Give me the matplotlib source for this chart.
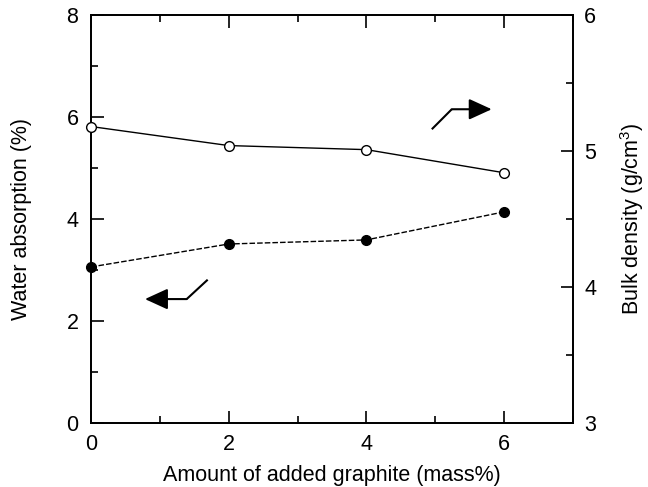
import matplotlib
matplotlib.use("Agg")
from matplotlib import pyplot as plt
from matplotlib.ticker import MultipleLocator

graphite = [0, 2, 4, 6]
water_abs = [3.06, 3.51, 3.59, 4.14]
bulk_density = [5.18, 5.04, 5.01, 4.84]

plt.rcParams['font.family'] = ['Liberation Sans', 'DejaVu Sans']
plt.rcParams['mathtext.fontset'] = 'custom'
plt.rcParams['mathtext.rm'] = 'Liberation Sans'

fs = 15.5
fig = plt.figure(figsize=(6.48, 4.87), dpi=100)
ax = fig.add_axes([0.1404, 0.1314, 0.7438, 0.8378])
ax2 = ax.twinx()

ax.plot(graphite, water_abs, color='black', lw=1.0, ls=(0, (4, 1.5)),
        marker='o', ms=7, mfc='black', mec='black', clip_on=False, zorder=3)
ax2.plot(graphite, bulk_density, color='black', lw=1.0, ls='-',
         marker='o', ms=7, mfc='white', mec='black', mew=1.0, clip_on=False, zorder=3)

ax.set_xlim(0, 7)
ax.set_ylim(0, 8)
ax2.set_ylim(3, 6)

ax.xaxis.set_major_locator(MultipleLocator(2))
ax.xaxis.set_minor_locator(MultipleLocator(1))
ax.yaxis.set_major_locator(MultipleLocator(2))
ax.yaxis.set_minor_locator(MultipleLocator(1))
ax2.yaxis.set_major_locator(MultipleLocator(1))
ax2.yaxis.set_minor_locator(MultipleLocator(0.5))

ax.tick_params(which='both', direction='in', top=True, right=False, width=1.2, labelsize=fs)
ax.tick_params(axis='x', pad=8)
ax.tick_params(axis='y', pad=9)
ax.tick_params(which='major', length=9)
ax.tick_params(which='minor', length=5)
ax2.tick_params(which='both', direction='in', width=1.2, labelsize=fs, pad=8)
ax2.tick_params(which='major', length=9)
ax2.tick_params(which='minor', length=5)

for a in (ax, ax2):
    for s in a.spines.values():
        s.set_linewidth(1.3)

ax.set_xlabel('Amount of added graphite (mass%)', fontsize=fs, labelpad=7)
ax.set_ylabel('Water absorption (%)', fontsize=fs, labelpad=25)
ax2.set_ylabel('Bulk density (g/cm$^3$)', fontsize=fs, labelpad=16, rotation=90)

# arrows pointing to each axis
arrow_kw = dict(arrowstyle='-|>,head_length=0.7,head_width=0.32', color='black',
                lw=1.5, mutation_scale=20, shrinkA=0, shrinkB=0)
ax.plot([1.695, 1.39], [2.81, 2.43], color='black', lw=1.5, solid_capstyle='butt')
ax.annotate('', xy=(0.784, 2.43), xytext=(1.39, 2.43), arrowprops=arrow_kw)
ax2.plot([4.95, 5.24], [5.16, 5.307], color='black', lw=1.5, solid_capstyle='butt')
ax2.annotate('', xy=(5.82, 5.307), xytext=(5.24, 5.307), arrowprops=arrow_kw)

fig.savefig('out.png', dpi=100)
